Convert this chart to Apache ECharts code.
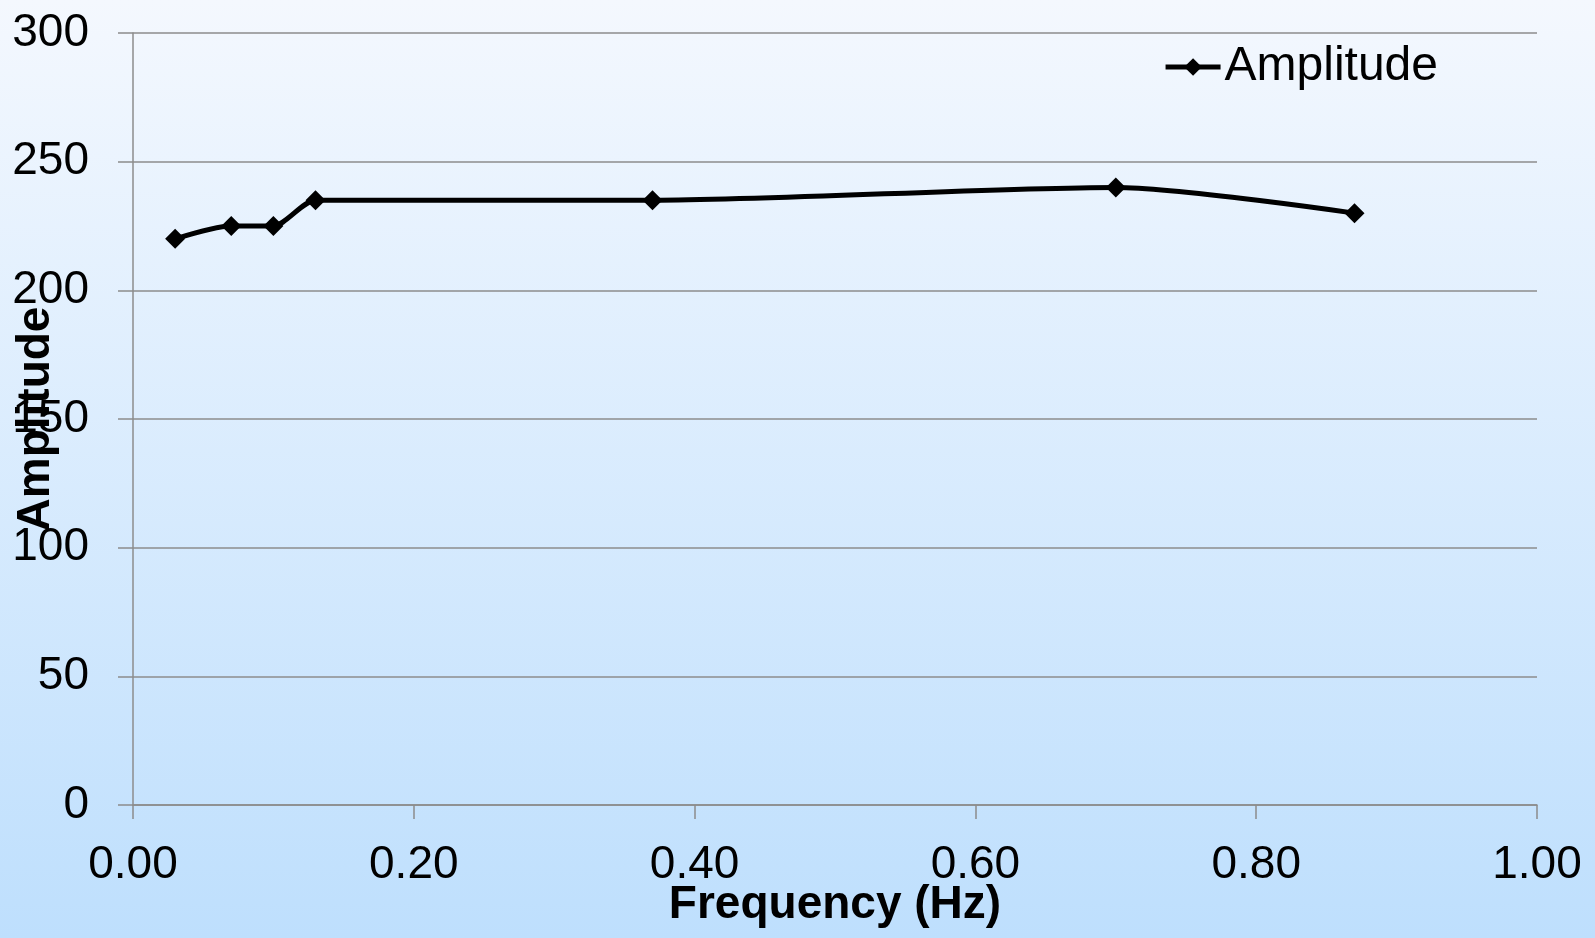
<!DOCTYPE html>
<html>
<head>
<meta charset="utf-8">
<script src="https://cdn.jsdelivr.net/npm/echarts@6/dist/echarts.min.js"></script>
<style>
html,body{margin:0;padding:0;width:1595px;height:938px;overflow:hidden;}
#c{width:1595px;height:938px;}
</style>
</head>
<body>
<div id="c"></div>
<script>
// Data
const frequency = [0.03, 0.07, 0.10, 0.13, 0.37, 0.70, 0.87];
const amplitude = [220, 225, 225, 235, 235, 240, 230];
const seriesName = 'Amplitude';
const xAxisTitle = 'Frequency (Hz)';
const yAxisTitle = 'Amplitude';

const FONT = '"Liberation Sans", Arial, sans-serif';
const chart = echarts.init(document.getElementById('c'), null, {renderer: 'canvas'});
const points = frequency.map((f, i) => [f, amplitude[i]]);

chart.setOption({
  animation: false,
  backgroundColor: {
    type: 'linear', x: 0, y: 0, x2: 0, y2: 1,
    colorStops: [
      {offset: 0, color: '#f4f8fe'},
      {offset: 1, color: '#bedffd'}
    ]
  },
  grid: {left: 133, right: 58, top: 33, bottom: 133, containLabel: false, outerBoundsMode: 'none'},
  legend: {
    data: [seriesName],
    right: 157,
    top: 43,
    padding: 0,
    itemWidth: 55,
    itemHeight: 22,
    lineStyle: {width: 5, color: '#000'},
    textStyle: {fontFamily: FONT, fontSize: 48, color: '#000', padding: [0,0,0,-1]}
  },
  xAxis: {
    type: 'value',
    min: 0, max: 1, interval: 0.2,
    name: xAxisTitle,
    nameLocation: 'middle',
    nameGap: 77,
    nameMoveOverlap: false,
    nameTextStyle: {fontFamily: FONT, fontSize: 46, fontWeight: 'bold', color: '#000'},
    axisLine: {show: true, onZero: false, lineStyle: {color: '#8c8c8c', width: 1.5}},
    axisTick: {show: true, length: 14, lineStyle: {color: '#8c8c8c', width: 1.5}},
    axisLabel: {fontFamily: FONT, fontSize: 46, color: '#000', margin: 37,
      formatter: v => v.toFixed(2)},
    splitLine: {show: false}
  },
  yAxis: {
    type: 'value',
    min: 0, max: 300, interval: 50,
    name: yAxisTitle,
    nameLocation: 'middle',
    nameRotate: 90,
    nameGap: 74,
    nameMoveOverlap: false,
    nameTextStyle: {fontFamily: FONT, fontSize: 46, fontWeight: 'bold', color: '#000'},
    axisLine: {show: true, lineStyle: {color: '#8c8c8c', width: 1.5}},
    axisTick: {show: true, length: 15, lineStyle: {color: '#8c8c8c', width: 1.5}},
    axisLabel: {fontFamily: FONT, fontSize: 46, color: '#000', margin: 44},
    splitLine: {show: true, lineStyle: {color: '#8c8c8c', width: 1.5}}
  },
  series: [{
    name: seriesName,
    type: 'line',
    data: points,
    smooth: 0.25,
    symbol: 'diamond',
    symbolSize: 20,
    lineStyle: {color: '#000', width: 5},
    itemStyle: {color: '#000'},
    z: 3
  }]
});
</script>
</body>
</html>
